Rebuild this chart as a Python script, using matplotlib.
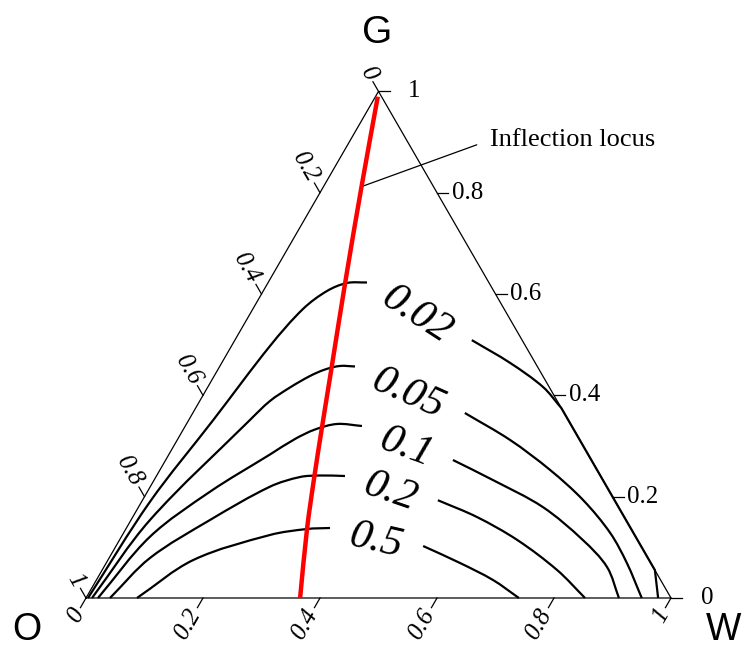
import numpy as np
import matplotlib
matplotlib.use("Agg")
import matplotlib.pyplot as plt
from matplotlib.path import Path
from matplotlib.patches import PathPatch

SQ3 = np.sqrt(3) / 2

# Contour levels (labels) and traced points as (G, W) fractions, O = 1 - G - W
levels = ["0.02", "0.05", "0.1", "0.2", "0.5"]

c002_left_G = [0.0, 0.1901, 0.3514, 0.4974, 0.5705, 0.6060, 0.6218, 0.6228]
c002_left_W = [0.0034, 0.0144, 0.0419, 0.0658, 0.0857, 0.1090, 0.1353, 0.1689]
c002_right_G = [0.509, 0.464, 0.4165, 0.375, 0.055, 0.0]
c002_right_W = [0.405, 0.493, 0.573, 0.625, 0.945, 0.978]

c005_left_G = [0.0, 0.1540, 0.3514, 0.3889, 0.4155, 0.4382, 0.4510, 0.4580, 0.4570]
c005_left_W = [0.0103, 0.0324, 0.1046, 0.1201, 0.1409, 0.1638, 0.1830, 0.2052, 0.2313]
c005_right_G = [0.3652, 0.3119, 0.2527, 0.1934, 0.1283, 0.0691, 0.0]
c005_right_W = [0.465, 0.569, 0.667, 0.753, 0.832, 0.890, 0.950]

c01_left_G = [0.0, 0.1210, 0.2098, 0.2833, 0.3139, 0.3326, 0.3435, 0.3395]
c01_left_W = [0.0205, 0.0489, 0.1071, 0.1729, 0.2004, 0.2252, 0.2574, 0.3020]
c01_right_G = [0.2724, 0.2329, 0.1796, 0.1145, 0.0612, 0.0]
c01_right_W = [0.491, 0.579, 0.691, 0.792, 0.860, 0.911]

c02_left_G = [0.0, 0.0790, 0.1540, 0.2197, 0.2388, 0.2418, 0.2408]
c02_left_W = [0.0410, 0.0699, 0.1350, 0.2046, 0.2464, 0.2791, 0.3223]
c02_right_G = [0.193, 0.160, 0.1145, 0.055, 0.0]
c02_right_W = [0.505, 0.588, 0.680, 0.778, 0.853]

c05_left_G = [0.0, 0.0750, 0.1244, 0.1362, 0.1382]
c05_left_W = [0.0872, 0.1459, 0.2523, 0.3097, 0.3480]
c05_right_G = [0.1026, 0.069, 0.0355, 0.0]
c05_right_W = [0.525, 0.605, 0.678, 0.740]

# Inflection locus
locus_G = [0.9895, 0.812, 0.622, 0.456, 0.3395, 0.241, 0.136, 0.0]
locus_W = [0.004, 0.065, 0.132, 0.192, 0.234, 0.270, 0.3098, 0.366]

tick_vals = [0.0, 0.2, 0.4, 0.6, 0.8, 1.0]
tick_text = ["0", "0.2", "0.4", "0.6", "0.8", "1"]


def tern(G, W):
    G = np.asarray(G, dtype=float)
    W = np.asarray(W, dtype=float)
    return W + G / 2, G * SQ3


def smooth_path(G, W):
    # smooth bezier curve through the traced points; points lying on the
    # G-W edge are kept as corners so the curve runs straight along the edge
    x, y = tern(G, W)
    pts = np.column_stack([x, y])
    corner = np.asarray(G) + np.asarray(W) > 0.999
    n = len(pts)

    def unit(v):
        return v / np.hypot(*v)

    tang = []
    for i in range(n):
        if i == 0:
            tang.append(unit(pts[1] - pts[0]))
        elif i == n - 1:
            tang.append(unit(pts[-1] - pts[-2]))
        else:
            tang.append(unit(pts[i + 1] - pts[i - 1]))

    verts = [pts[0]]
    codes = [Path.MOVETO]
    for i in range(n - 1):
        p1, p2 = pts[i], pts[i + 1]
        d = np.hypot(*(p2 - p1))
        chord = unit(p2 - p1)
        t1 = chord if corner[i] else tang[i]
        t2 = chord if corner[i + 1] else tang[i + 1]
        verts += [p1 + t1 * d / 3, p2 - t2 * d / 3, p2]
        codes += [Path.CURVE4] * 3
    return Path(verts, codes), pts


def main():
    fig = plt.figure(figsize=(7.46, 6.49), dpi=100)
    ax = fig.add_axes([0, 0, 1, 1])
    ax.set_xlim(-86 / 585, 660 / 585)
    ax.set_ylim(-51 / 585, 598 / 585)
    ax.axis("off")

    serif = "Liberation Serif"
    sans = "Liberation Sans"

    # triangle frame
    fx, fy = tern([0, 0, 1, 0], [0, 1, 0, 0])
    ax.plot(fx, fy, color="black", lw=0.9, solid_joinstyle="miter")

    # ticks and tick labels
    L = 0.019
    gap = 0.006
    for v, t in zip(tick_vals, tick_text):
        # bottom axis (W)
        x0, y0 = tern(0, v)
        dx, dy = -0.5, -SQ3
        ax.plot([x0, x0 + L * dx], [y0, y0 + L * dy], color="black", lw=0.9)
        ax.text(x0 + (L + gap) * dx, y0 + (L + gap) * dy, t, rotation=60,
                rotation_mode="anchor", ha="right", va="center",
                family=serif, style="italic", fontsize=18)
        # left axis (O, 0 at G)
        x0, y0 = tern(1 - v, 0)
        dx, dy = -0.5, SQ3
        ax.plot([x0, x0 + L * dx], [y0, y0 + L * dy], color="black", lw=0.9)
        ax.text(x0 + (L + gap) * dx, y0 + (L + gap) * dy, t, rotation=-60,
                rotation_mode="anchor", ha="right", va="center",
                family=serif, style="italic", fontsize=18)
        # right axis (G); end labels sit a bit further out
        x0, y0 = tern(v, 1 - v)
        ax.plot([x0, x0 + L], [y0, y0], color="black", lw=0.9)
        extra = 0.026 if v in (0.0, 1.0) else 0.0
        ax.text(x0 + L + gap + extra, y0, t, ha="left", va="center",
                family=serif, fontsize=18)

    # contours, drawn in two pieces around their inline labels
    pieces = [
        (c002_left_G, c002_left_W, c002_right_G, c002_right_W),
        (c005_left_G, c005_left_W, c005_right_G, c005_right_W),
        (c01_left_G, c01_left_W, c01_right_G, c01_right_W),
        (c02_left_G, c02_left_W, c02_right_G, c02_right_W),
        (c05_left_G, c05_left_W, c05_right_G, c05_right_W),
    ]
    rotations = [-33, -24, -20, -19, -13]
    for lab, rot, (lg, lw_, rg, rw) in zip(levels, rotations, pieces):
        path1, p1 = smooth_path(lg, lw_)
        path2, p2 = smooth_path(rg, rw)
        for path in (path1, path2):
            ax.add_patch(PathPatch(path, fill=False, edgecolor="black",
                                   lw=1.6, capstyle="butt"))
        mid = (p1[-1] + p2[0]) / 2
        ax.text(mid[0], mid[1], lab, rotation=rot,
                rotation_mode="anchor", ha="center", va="center_baseline",
                family=serif, style="italic", fontsize=31)

    # inflection locus
    path_r, rp = smooth_path(locus_G, locus_W)
    ax.add_patch(PathPatch(path_r, fill=False, edgecolor="red", lw=3.2,
                           capstyle="butt", zorder=5))
    ax.annotate("Inflection locus", xy=(rp[1, 0], rp[1, 1]),
                xytext=(404 / 585, 452 / 585), ha="left", va="baseline",
                family=serif, fontsize=19,
                arrowprops=dict(arrowstyle="-", color="black", lw=0.9,
                                relpos=(0, 0.5), shrinkA=8, shrinkB=0))

    # vertex labels
    ax.text(291 / 585, 555 / 585, "G", ha="center", va="baseline",
            family=sans, fontsize=28)
    ax.text(-74 / 585, -42 / 585, "O", ha="left", va="baseline",
            family=sans, fontsize=27)
    ax.text(620 / 585, -42 / 585, "W", ha="left", va="baseline",
            family=sans, fontsize=27)

    fig.savefig("out.png", dpi=100)


if __name__ == "__main__":
    main()
